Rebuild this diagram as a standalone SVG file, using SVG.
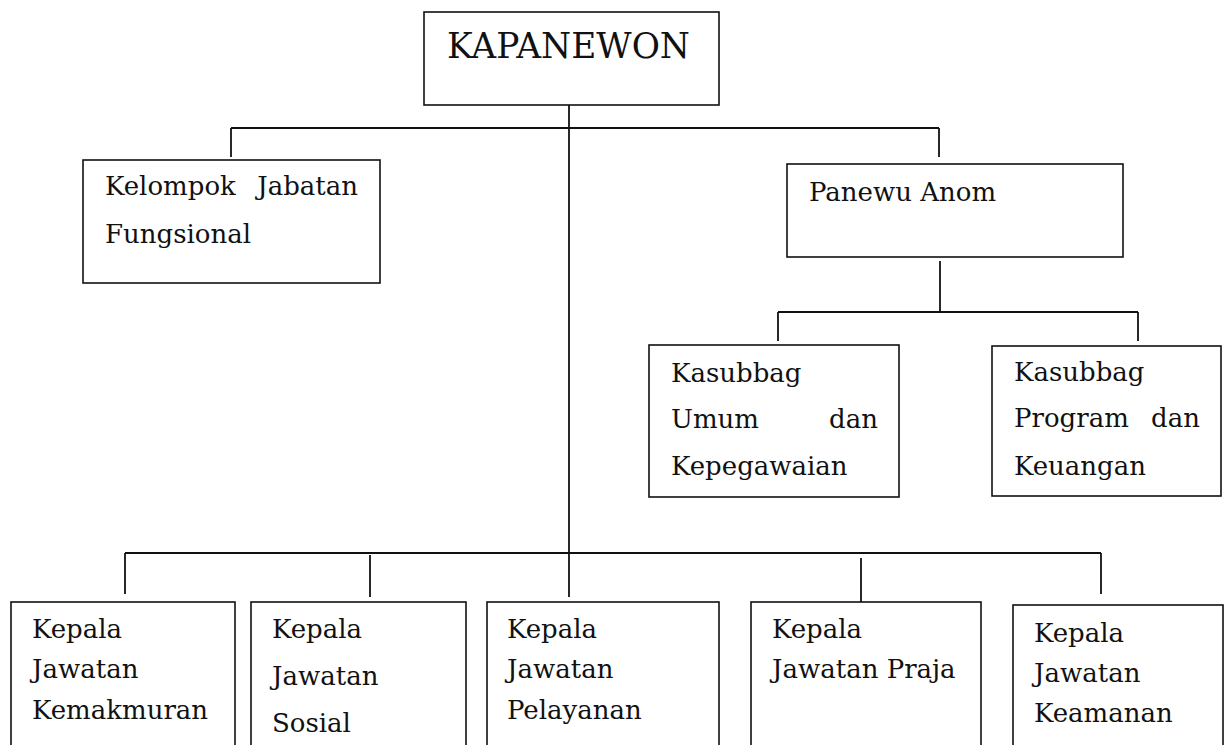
<svg xmlns="http://www.w3.org/2000/svg" width="1227" height="745" viewBox="0 0 1227 745">
<style>
.box{fill:#fff;stroke:#111;stroke-width:1.6}
.t{font-family:"DejaVu Serif","Liberation Serif",serif;font-size:26px;fill:#111}
.e{text-anchor:end}
.big{font-size:36px}
.c line{stroke:#111;stroke-width:1.8}
</style>
<rect width="1227" height="745" fill="#fff"/>
<g class="c" id="connectors">
<line x1="569" y1="105" x2="569" y2="597"/>
<line x1="231" y1="128" x2="939" y2="128"/>
<line x1="231" y1="128" x2="231" y2="157"/>
<line x1="939" y1="128" x2="939" y2="157"/>
<line x1="940" y1="261" x2="940" y2="312"/>
<line x1="778" y1="312" x2="1138" y2="312"/>
<line x1="778" y1="312" x2="778" y2="341"/>
<line x1="1138" y1="312" x2="1138" y2="341"/>
<line x1="125" y1="553" x2="1101" y2="553"/>
<line x1="125" y1="553" x2="125" y2="594"/>
<line x1="370" y1="555" x2="370" y2="597"/>
<line x1="861" y1="558" x2="861" y2="602"/>
<line x1="1101" y1="553" x2="1101" y2="594"/>
</g>
<g id="kapanewon"><rect class="box" x="424" y="12" width="295" height="93"/><text class="t big" x="447" y="58" textLength="243" lengthAdjust="spacingAndGlyphs">KAPANEWON</text></g>
<g id="kelompok"><rect class="box" x="83" y="160" width="297" height="123"/><text class="t" x="105" y="195">Kelompok</text><text class="t e" x="358" y="195">Jabatan</text><text class="t" x="105" y="243">Fungsional</text></g>
<g id="panewu"><rect class="box" x="787" y="164" width="336" height="93"/><text class="t" x="809" y="201">Panewu Anom</text></g>
<g id="umum"><rect class="box" x="649" y="345" width="250" height="152"/><text class="t" x="671" y="382">Kasubbag</text><text class="t" x="671" y="428">Umum</text><text class="t e" x="878" y="428">dan</text><text class="t" x="671" y="475">Kepegawaian</text></g>
<g id="program"><rect class="box" x="992" y="346" width="229" height="150"/><text class="t" x="1014" y="381">Kasubbag</text><text class="t" x="1014" y="427">Program</text><text class="t e" x="1200" y="427">dan</text><text class="t" x="1014" y="475">Keuangan</text></g>
<g id="kemakmuran"><rect class="box" x="11" y="602" width="224" height="160"/><text class="t" x="32" y="638">Kepala</text><text class="t" x="32" y="678">Jawatan</text><text class="t" x="32" y="719">Kemakmuran</text></g>
<g id="sosial"><rect class="box" x="251" y="602" width="215" height="160"/><text class="t" x="272" y="638">Kepala</text><text class="t" x="272" y="685">Jawatan</text><text class="t" x="272" y="732">Sosial</text></g>
<g id="pelayanan"><rect class="box" x="487" y="602" width="232" height="160"/><text class="t" x="507" y="638">Kepala</text><text class="t" x="507" y="678">Jawatan</text><text class="t" x="507" y="719">Pelayanan</text></g>
<g id="praja"><rect class="box" x="751" y="602" width="230" height="160"/><text class="t" x="772" y="638">Kepala</text><text class="t" x="772" y="678">Jawatan Praja</text></g>
<g id="keamanan"><rect class="box" x="1013" y="605" width="210" height="160"/><text class="t" x="1034" y="642">Kepala</text><text class="t" x="1034" y="682">Jawatan</text><text class="t" x="1034" y="722">Keamanan</text></g>
</svg>
